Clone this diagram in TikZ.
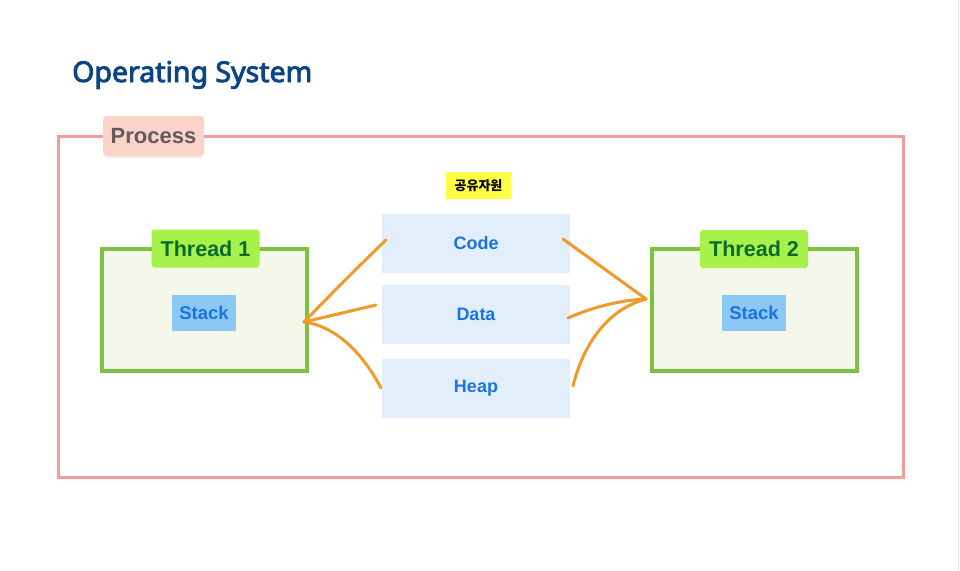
\documentclass[tikz,border=0pt]{standalone}
\usepackage{fontspec}
\setmainfont{Liberation Sans}
\newfontfamily\titlefont{Noto Sans}[FakeBold=3]
\newfontfamily\kr{Noto Sans CJK KR}
\usetikzlibrary{shadows}
\definecolor{titleblue}{HTML}{0B4587}
\definecolor{procpink}{HTML}{F49C9C}
\definecolor{proclabel}{HTML}{FBD3C8}
\definecolor{proctext}{HTML}{625B5B}
\definecolor{resfill}{HTML}{E3EEFB}
\definecolor{restext}{HTML}{1A73E0}
\definecolor{thgreen}{HTML}{7CC142}
\definecolor{thfill}{HTML}{F4F8EA}
\definecolor{thlabel}{HTML}{A6F24A}
\definecolor{thtext}{HTML}{0B6A30}
\definecolor{stackfill}{HTML}{8DC8F2}
\definecolor{kryellow}{HTML}{FFFF44}
\definecolor{arrorange}{HTML}{F09A2A}
\begin{document}
\begin{tikzpicture}[x=1pt,y=-1pt,
  resbox/.style={fill=resfill, text=restext, inner sep=0, minimum width=188pt, minimum height=59pt, font=\bfseries\fontsize{18}{18}\selectfont},
  thbox/.style={draw=thgreen, line width=4pt, fill=thfill, inner sep=0, minimum width=205pt, minimum height=122pt},
  thlab/.style={fill=thlabel, rounded corners=3pt, text=thtext, inner sep=0, minimum width=108pt, minimum height=38pt, font=\bfseries\fontsize{21.5}{21.5}\selectfont},
  stackbox/.style={fill=stackfill, text=restext, inner sep=0, minimum width=64pt, minimum height=36pt, font=\bfseries\fontsize{18.5}{18.5}\selectfont},
  link/.style={draw=arrorange, line width=3pt, line cap=round}]
\useasboundingbox (0,0) rectangle (960,570);
\fill[white] (0,0) rectangle (960,570);
\draw[black!12, line width=1pt] (958.5,0) -- (958.5,570);

\node[anchor=base west, text=titleblue, inner sep=0, font=\titlefont\fontsize{28.5}{28.5}\selectfont] (title) at (72,82) {Operating System};

\node[draw=procpink, line width=3pt, inner sep=0, minimum width=845pt, minimum height=341pt] (proc) at (480.5,306.5) {};
\node[fill=proclabel, rounded corners=4pt, text=proctext, inner sep=0, minimum width=101pt, minimum height=40pt, font=\bfseries\fontsize{22}{22}\selectfont, drop shadow={opacity=0.15, shadow xshift=0pt, shadow yshift=-1.5pt}] (proclab) at (153.5,136) {Process};

\node[fill=kryellow, inner sep=0, minimum width=65pt, minimum height=27pt, font=\kr\bfseries\fontsize{13}{13}\selectfont] (shared) at (478.5,185.5) {공유자원};

\node[resbox] (code) at (476,243) {Code};
\node[resbox] (data) at (476,314) {Data};
\node[resbox] (heap) at (476,388.5) {Heap};

\node[thbox] (t1) at (204.5,309.5) {};
\node[thlab] (t1lab) at (205.5,248.5) {Thread 1};
\node[stackbox] (s1) at (204,313) {Stack};

\node[thbox] (t2) at (754,309.5) {};
\node[thlab] (t2lab) at (754,249) {Thread 2};
\node[stackbox] (s2) at (754,312.5) {Stack};

\coordinate (L) at (304,322);
\coordinate (R) at (646,299);
\coordinate (lc) at (386,240);
\coordinate (ld) at (376,305);
\coordinate (lh) at (381,388);
\coordinate (rc) at (563,239);
\coordinate (rd) at (568,318);
\coordinate (rh) at (573,386);

\draw[link] (L) .. controls (333,292) and (361,264) .. (lc);
\draw[link] (L) -- (ld);
\draw[link] (L) .. controls (335,326) and (362,352) .. (lh);
\draw[link] (rc) -- (R);
\draw[link] (rd) .. controls (590,308) and (620,300) .. (R);
\draw[link] (rh) .. controls (585,338) and (612,308) .. (R);
\end{tikzpicture}
\end{document}
